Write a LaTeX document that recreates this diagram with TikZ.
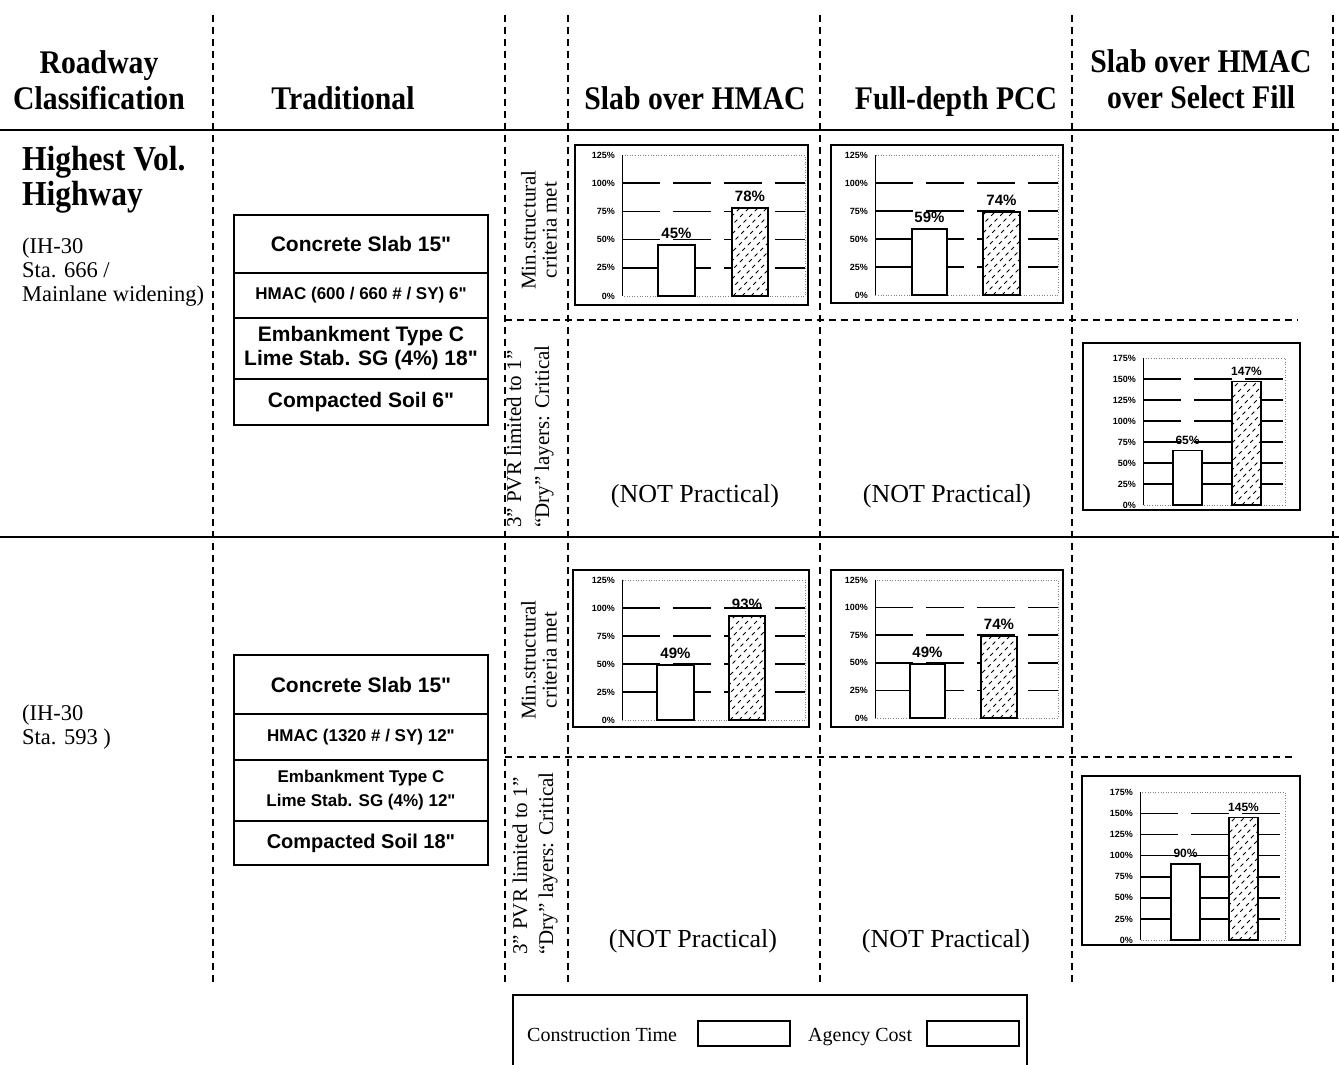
\documentclass[tikz,border=0pt]{standalone}
\usepackage{fontspec}
\setmainfont{Liberation Serif}
\newfontfamily\sansf{Liberation Sans}
\def\vfs{15}
\newcommand\chartaxes[6]{%
  \draw[plotframe] (#2,{#4-#6*#5}) rectangle (#3,#4);
  \draw[axisline] (#2,{#4-#6*#5}) -- (#2,#4);
  \pgfmathtruncatemacro\nmo{#6-1}%
  \foreach \i in {1,...,\nmo}{\draw[gridline] (#2,{#4-\i*#5}) -- (#3,{#4-\i*#5});}
  \foreach \i [evaluate=\i as \p using int(25*\i)] in {0,...,#6}{\node[tick] (#1t\i) at (#2-7,{#4-\i*#5}) {\p\%};}
}
\newcommand\hatchfill[4]{%
  \begin{scope}\clip (#1,#3) rectangle (#2,#4);
  \foreach \k in {-170,-161,...,40}{\draw[hatchline] ({#1+(\k)},#3) -- ++(180,-180);}
  \end{scope}}
\newcommand\cbar[7]{%
  \pgfmathsetmacro\yt{#4-#6*#5/25}%
  \fill[white] (#2,#4) rectangle (#3,\yt);
  \ifnum#7=1 \hatchfill{#2}{#3}{#4}{\yt}\fi
  \draw[barline] (#2,#4) rectangle (#3,\yt);
  \node[vallbl] (#1) at ({(#2+#3)/2},\yt-6) {#6\%};}
\begin{document}
\begin{tikzpicture}[x=1pt,y=-1pt,
  vdash/.style={line width=2.4pt, dash pattern=on 7pt off 5pt},
  rule/.style={line width=2.4pt},
  head/.style={font=\fontsize{33}{36}\selectfont\bfseries, xscale=0.9, align=center, inner sep=0},
  loc/.style={font=\fontsize{22.5}{24}\selectfont, align=left, anchor=west, inner sep=0},
  rot/.style={rotate=90, font=\fontsize{21}{21}\selectfont, inner sep=0},
  notp/.style={font=\fontsize{26}{26}\selectfont, inner sep=0},
  layer/.style={draw, line width=1.8pt, minimum width=254pt, inner sep=0, align=center},
  lbig/.style={font=\sansf\bfseries\fontsize{21}{24}\selectfont},
  lsmall/.style={font=\sansf\bfseries\fontsize{17}{24}\selectfont},
  chartbox/.style={line width=1.6pt},
  plotframe/.style={gray, line width=0.6pt, dotted},
  axisline/.style={line width=0.8pt},
  gridline/.style={line width=1.6pt, dash pattern=on 38pt off 13pt},
  barline/.style={line width=1.5pt},
  hatchline/.style={line width=0.9pt, dash pattern=on 4pt off 4pt},
  tick/.style={anchor=east, inner sep=0, font=\sansf\bfseries\fontsize{9}{9}\selectfont},
  vallbl/.style={anchor=south, inner sep=0, font=\sansf\bfseries\fontsize{\vfs}{\vfs}\selectfont},
  legtext/.style={anchor=base west, inner sep=0, font=\fontsize{20}{20}\selectfont},
  legbox/.style={draw, line width=1.5pt, minimum width=92pt, minimum height=25pt, inner sep=0}
]
\fill[white] (0,0) rectangle (1339,1065);
\useasboundingbox (0,0) rectangle (1339,1065);

% grid lines
\foreach \x in {213,505,568,820,1072,1333} \draw[vdash] (\x,15) -- (\x,985);
\draw[rule] (0,130) -- (1339,130);
\draw[rule] (0,537) -- (1339,537);
\draw[vdash] (505,320) -- (1298,320);
\draw[vdash] (505,757) -- (1296,757);

% headers
\node[head] (h1) at (99,80) {Roadway\\Classification};
\node[head, anchor=base] (h2) at (343,109) {Traditional};
\node[head, anchor=base] (h3) at (695,109) {Slab over HMAC};
\node[head, anchor=base] (h4) at (956,109) {Full-depth PCC};
\node[head] (h5) at (1201,79) {Slab over HMAC\\over Select Fill};

% left column
\node[head, font=\fontsize{35}{35}\selectfont\bfseries, anchor=west, align=left] (hv) at (22,180) {Highest Vol.\\Highway};
\node[loc] (loc1) at (22,272) {(IH-30\\Sta. 666 /\\Mainlane widening)};
\node[loc] (loc2) at (22,727) {(IH-30\\Sta. 593 )};

% traditional layers row 1
\node[layer, minimum height=58pt, lbig] (t1a) at (361,244) {Concrete Slab 15"};
\node[layer, minimum height=45pt, lsmall] (t1b) at (361,295.5) {HMAC (600 / 660 \# / SY) 6"};
\node[layer, minimum height=61pt, lbig] (t1c) at (361,348.5) {Embankment Type C\\Lime Stab. SG (4\%) 18"};
\node[layer, minimum height=46pt, lbig] (t1d) at (361,402) {Compacted Soil 6"};

% traditional layers row 2
\node[layer, minimum height=59pt, lbig] (t2a) at (361,684.5) {Concrete Slab 15"};
\node[layer, minimum height=46pt, lsmall] (t2b) at (361,737) {HMAC (1320 \# / SY) 12"};
\node[layer, minimum height=61pt, lsmall] (t2c) at (361,790.5) {Embankment Type C\\Lime Stab. SG (4\%) 12"};
\node[layer, minimum height=44pt, lbig, font=\sansf\bfseries\fontsize{20}{24}\selectfont] (t2d) at (361,843) {Compacted Soil 18"};

% rotated labels
\node[rot, align=center] (r1) at (539,230) {Min.structural\\criteria met};
\node[rot, align=left, anchor=west, font=\fontsize{21}{28}\selectfont] (r2) at (530,528) {3” PVR limited to 1”\\“Dry” layers: Critical};
\node[rot, align=center] (r3) at (539,660) {Min.structural\\criteria met};
\node[rot, align=left, anchor=west, font=\fontsize{21}{26}\selectfont] (r4) at (535,955) {3” PVR limited to 1”\\“Dry” layers: Critical};

% not practical
\node[notp] (np1) at (695,496) {(NOT Practical)};
\node[notp] (np2) at (947,496) {(NOT Practical)};
\node[notp] (np3) at (693,941) {(NOT Practical)};
\node[notp] (np4) at (946,941) {(NOT Practical)};

% chart 1
\draw[chartbox] (575,145) rectangle (808,305);
\chartaxes{c1}{622}{805}{296}{28.2}{5}
\cbar{c1a}{658}{695}{296}{28.2}{45}{0}
\cbar{c1b}{732}{768}{296}{28.2}{78}{1}
% chart 2
\draw[chartbox] (831,145) rectangle (1063,303);
\chartaxes{c2}{875}{1058}{295}{28}{5}
\cbar{c2a}{912}{947}{295}{28}{59}{0}
\cbar{c2b}{983}{1020}{295}{28}{74}{1}
% chart 4
\draw[chartbox] (573,570) rectangle (809,727);
\chartaxes{c4}{622}{805}{720}{28}{5}
\cbar{c4a}{657}{694}{720}{28}{49}{0}
\cbar{c4b}{729}{765}{720}{28}{93}{1}
% chart 5
\draw[chartbox] (831,570) rectangle (1063,727);
\chartaxes{c5}{875}{1058}{718}{27.6}{5}
\cbar{c5a}{910}{945}{718}{27.6}{49}{0}
\cbar{c5b}{981}{1017}{718}{27.6}{74}{1}
% chart 3
\def\vfs{12}
\draw[chartbox] (1083,343) rectangle (1300,510);
\chartaxes{c3}{1143}{1285}{505}{21}{7}
\cbar{c3a}{1173}{1202}{505}{21}{65}{0}
\cbar{c3b}{1232}{1261}{505}{21}{147}{1}
% chart 6
\draw[chartbox] (1082,776) rectangle (1300,945);
\chartaxes{c6}{1140}{1285}{940}{21.1}{7}
\cbar{c6a}{1171}{1200}{940}{21.1}{90}{0}
\cbar{c6b}{1229}{1258}{940}{21.1}{145}{1}

% legend
\draw[line width=1.5pt] (513,1066) -- (513,995) -- (1027,995) -- (1027,1066);
\node[legtext] (lt1) at (527,1041) {Construction Time};
\node[legbox] (lb1) at (744,1033.5) {};
\node[legtext] (lt2) at (808,1041) {Agency Cost};
\node[legbox] (lb2) at (973,1033.5) {};
\end{tikzpicture}
\end{document}
